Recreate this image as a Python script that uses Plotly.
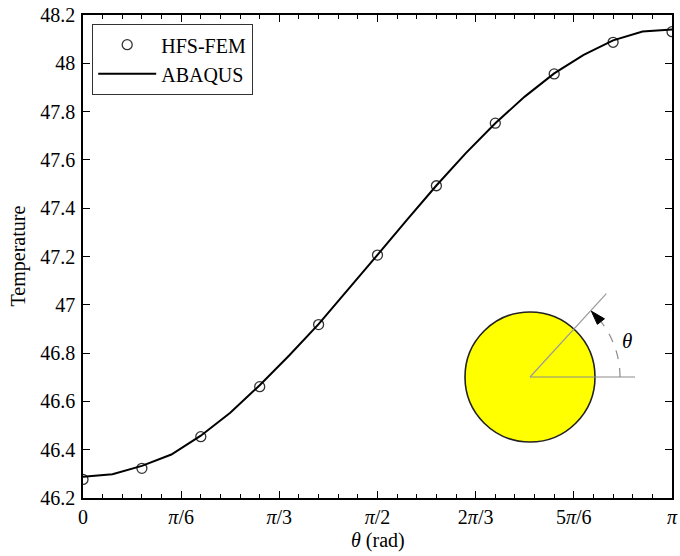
import math
import plotly.graph_objects as go

# ---- data (theta given in units of pi) ----
theta_fem_pi = [0.0, 0.1, 0.2, 0.3, 0.4, 0.5, 0.6, 0.7, 0.8, 0.9, 1.0]
temp_fem = [46.277, 46.323, 46.454, 46.661, 46.918, 47.206, 47.493, 47.752, 47.956, 48.087, 48.131]

theta_abq_pi = [0.0, 0.05, 0.10, 0.15, 0.20, 0.25, 0.30, 0.35, 0.40, 0.45, 0.50,
                0.55, 0.60, 0.65, 0.70, 0.75, 0.80, 0.85, 0.90, 0.95, 1.0]
temp_abq = [46.288, 46.298, 46.333, 46.380, 46.458, 46.553, 46.667, 46.790, 46.920, 47.062, 47.207,
            47.352, 47.494, 47.628, 47.752, 47.862, 47.958, 48.035, 48.095, 48.132, 48.140]

tick_pi = [0, 1/6, 1/3, 1/2, 2/3, 5/6, 1]
tick_text = ["0", "<i>π</i>/6", "<i>π</i>/3", "<i>π</i>/2", "2<i>π</i>/3", "5<i>π</i>/6", "<i>π</i>"]

PI = math.pi
theta_fem = [t * PI for t in theta_fem_pi]
theta_abq = [t * PI for t in theta_abq_pi]
tick_vals = [t * PI for t in tick_pi]

FONT = "Liberation Serif, Times New Roman, serif"

fig = go.Figure()
fig.add_trace(go.Scatter(
    x=theta_fem, y=temp_fem, mode="markers", name="HFS-FEM",
    marker=dict(symbol="circle-open", size=10, color="#333333", line=dict(width=1.3, color="#333333")),
))
fig.add_trace(go.Scatter(
    x=theta_abq, y=temp_abq, mode="lines", name="ABAQUS",
    line=dict(color="black", width=2),
))

# ---- layout geometry (screen pixels; body margin removed via post_script) ----
W, H = 680, 556
PL, PR, PT, PB = 83, 672, 15, 498      # plot area
L, T, R, B = PL, PT, W - PR, H - PB
pw = PR - PL
ph = PB - PT

axis_common = dict(
    showline=True, linecolor="black", linewidth=1.5, mirror="ticks",
    ticks="inside", tickcolor="black", ticklen=7, tickwidth=1.2,
    showgrid=False, zeroline=False, automargin=False,
    ticklabeloverflow="allow",
    tickfont=dict(family=FONT, size=20, color="black"),
)

fig.update_layout(
    width=W, height=H,
    margin=dict(l=L, r=R, t=T, b=B),
    plot_bgcolor="white", paper_bgcolor="white",
    font=dict(family=FONT, color="black"),
    xaxis=dict(
        range=[0, PI], tickvals=tick_vals, ticktext=tick_text,
        minor=dict(dtick=PI / 30, tick0=0, ticks="inside", ticklen=4, tickcolor="black", tickwidth=1),
        **axis_common,
    ),
    yaxis=dict(
        range=[46.2, 48.2], dtick=0.2, tick0=46.2, ticklabelstandoff=2,
        **axis_common,
    ),
    legend=dict(
        x=(92 - PL) / pw, y=(PB - 24) / ph, xanchor="left", yanchor="top",
        bordercolor="#333333", borderwidth=1.2, bgcolor="white",
        font=dict(family=FONT, size=20, color="black"),
        tracegroupgap=0, itemwidth=58,
    ),
    showlegend=True,
)

# axis titles
fig.add_annotation(xref="paper", yref="paper", x=0.5, y=0, yshift=-(540 - PB),
                   text="<i>θ</i> (rad)", showarrow=False,
                   font=dict(family=FONT, size=20, color="black"),
                   xanchor="center", yanchor="middle")
fig.add_annotation(xref="paper", yref="paper", x=0, y=0.5, xshift=-(PL - 18),
                   text="Temperature", showarrow=False, textangle=-90,
                   font=dict(family=FONT, size=20, color="black"),
                   xanchor="center", yanchor="middle")

# ---- inset diagram (circle with angle theta) ----
cx_px, cy_px = 530, 377
cx = (cx_px - PL) / pw
cy = (PB - cy_px) / ph
rad = 65

def pix_shape(**kw):
    base = dict(xref="paper", yref="paper", xsizemode="pixel", ysizemode="pixel",
                xanchor=cx, yanchor=cy)
    base.update(kw)
    return base

shapes = []
shapes.append(pix_shape(type="circle", x0=-rad, x1=rad, y0=-rad, y1=rad,
                        fillcolor="#ffff00", line=dict(color="#222222", width=1.6), layer="above"))
shapes.append(pix_shape(type="line", x0=0, y0=0, x1=105, y1=0,
                        line=dict(color="#8c8c8c", width=1.2), layer="above"))
diag_ang = math.radians(47.5)
shapes.append(pix_shape(type="line", x0=0, y0=0, x1=113 * math.cos(diag_ang), y1=113 * math.sin(diag_ang),
                        line=dict(color="#9a9a9a", width=1.2), layer="above"))
arc_r = 90
n = 30
pts = []
for i in range(n + 1):
    a = math.radians(40 * i / n)
    pts.append((arc_r * math.cos(a), arc_r * math.sin(a)))
path = "M " + " L ".join(f"{x:.2f},{y:.2f}" for x, y in pts)
shapes.append(pix_shape(type="path", path=path, line=dict(color="#8c8c8c", width=1.2, dash="dash"), layer="above"))
tip_a = math.radians(47)
base_a = math.radians(38)
tip = (arc_r * math.cos(tip_a), arc_r * math.sin(tip_a))
b1 = ((arc_r - 4.5) * math.cos(base_a), (arc_r - 4.5) * math.sin(base_a))
b2 = ((arc_r + 4.5) * math.cos(base_a), (arc_r + 4.5) * math.sin(base_a))
tri = f"M {tip[0]:.2f},{tip[1]:.2f} L {b1[0]:.2f},{b1[1]:.2f} L {b2[0]:.2f},{b2[1]:.2f} Z"
shapes.append(pix_shape(type="path", path=tri, fillcolor="black", line=dict(color="black", width=1), layer="above"))
fig.update_layout(shapes=shapes)

fig.add_annotation(
    xref="paper", yref="paper",
    x=(627 - PL) / pw, y=(PB - 341) / ph,
    text="<i>θ</i>", showarrow=False,
    font=dict(family=FONT, size=21, color="black"),
    xanchor="center", yanchor="middle",
)

fig.write_html("out.html", config={"displayModeBar": False},
               post_script="document.body.style.margin='0px';document.body.style.overflow='hidden';")
